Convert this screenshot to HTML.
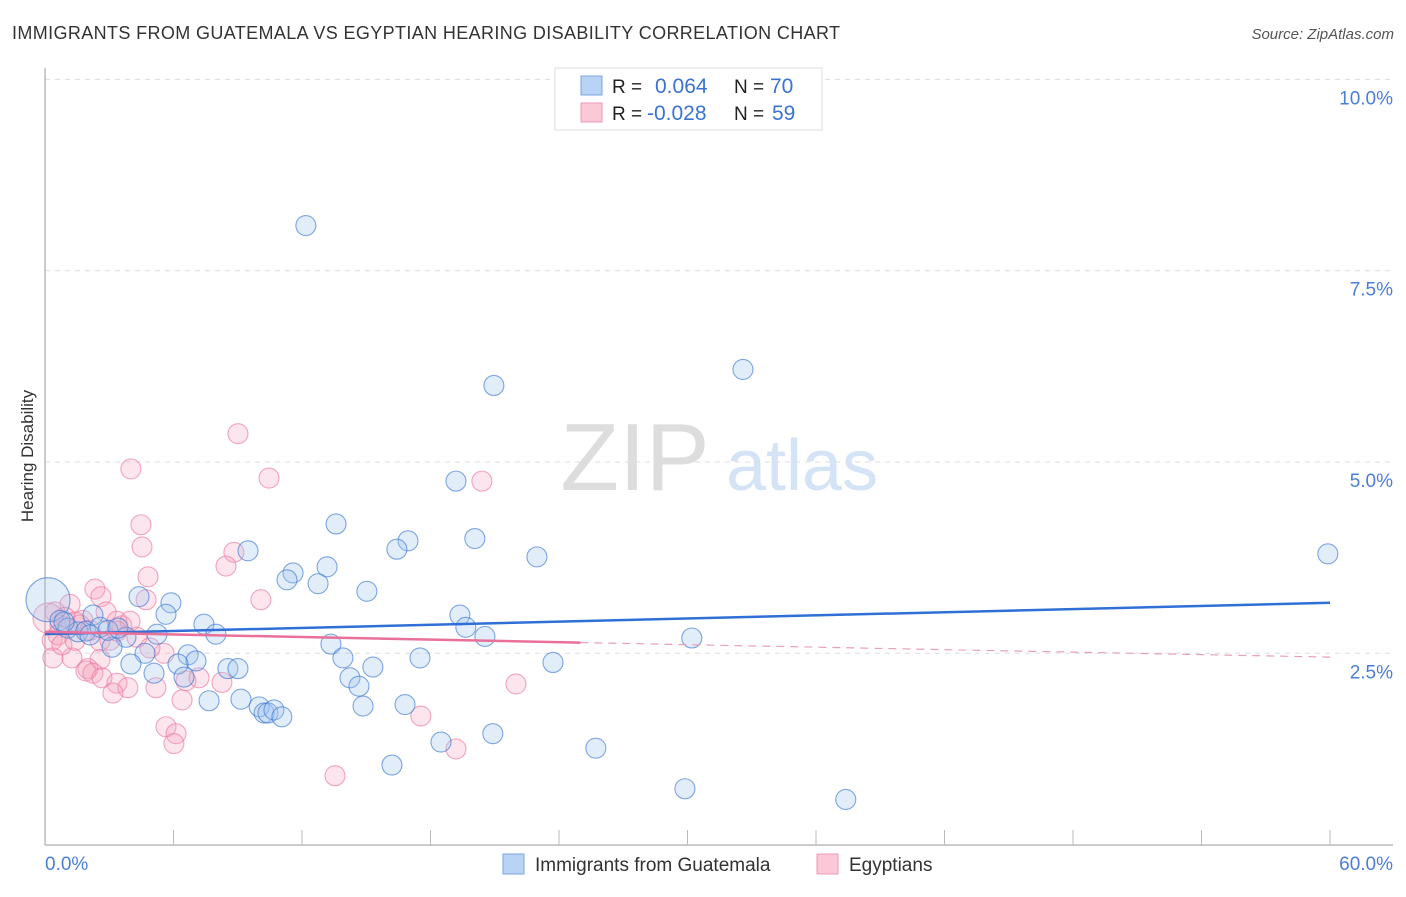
<!DOCTYPE html>
<html><head><meta charset="utf-8"><style>
body{margin:0;background:#fff;font-family:"Liberation Sans",sans-serif;}
svg text{font-family:"Liberation Sans",sans-serif;}
</style></head><body>
<svg width="1406" height="892" xmlns="http://www.w3.org/2000/svg" id="chart">
<text x="12" y="39" font-size="18" fill="#333" textLength="828">IMMIGRANTS FROM GUATEMALA VS EGYPTIAN HEARING DISABILITY CORRELATION CHART</text>
<text x="1394" y="39" font-size="15" fill="#555" font-style="italic" text-anchor="end">Source: ZipAtlas.com</text>
<text x="0" y="0" transform="translate(33,456) rotate(-90)" font-size="17" fill="#333" text-anchor="middle">Hearing Disability</text>
<g>
<text x="635" y="490" font-size="96" fill="#ddd" font-family="Liberation Serif,serif" text-anchor="middle">ZIP</text>
<text x="802" y="490" font-size="72" fill="#d4e3f6" text-anchor="middle">atlas</text>
</g>
<g id="grid"></g>
<g id="axes"></g>
<g id="pts"></g>
<g id="lines"></g>
<g>
<rect x="555" y="68" width="267" height="62" fill="#fff" stroke="#ddd"/>
<rect x="581" y="76" width="21" height="19" fill="#b9d3f5" stroke="#7aa5e0"/>
<rect x="581" y="103" width="21" height="19" fill="#fac8d7" stroke="#ee9ab5"/>
<text x="612" y="93" font-size="19" fill="#222">R = </text><text x="655" y="93" font-size="21" fill="#3a73d0">0.064</text>
<text x="734" y="93" font-size="19" fill="#222">N = </text><text x="770" y="93" font-size="21" fill="#3a73d0">70</text>
<text x="612" y="120" font-size="19" fill="#222">R = </text><text x="647" y="120" font-size="21" fill="#3a73d0">-0.028</text>
<text x="734" y="120" font-size="19" fill="#222">N = </text><text x="772" y="120" font-size="21" fill="#3a73d0">59</text>
</g>
<g>
<rect x="503" y="854" width="21" height="20" fill="#b9d3f5" stroke="#7aa5e0"/>
<text x="535" y="871" font-size="19" fill="#333">Immigrants from Guatemala</text>
<rect x="817" y="854" width="21" height="20" fill="#fac8d7" stroke="#ee9ab5"/>
<text x="849" y="871" font-size="19" fill="#333">Egyptians</text>
</g>
</svg>
<script>
const yTicks=[2.5,5.0,7.5,10.0];
const xTickLabels=["0.0%","60.0%"];
const blueX=[12.18,32.59,20.96,19.19,13.59,20.07,16.95,16.43,9.48,22.97,59.9,13.17,11.58,11.30,12.75,15.03,4.39,5.88,5.65,2.24,19.37,7.42,19.65,20.54,30.2,5.23,3.78,7.98,13.35,3.13,4.67,6.68,13.91,17.51,23.72,4.01,7.05,6.21,15.31,5.09,8.54,9.01,6.49,14.24,14.66,7.66,9.15,10.0,14.85,16.81,10.23,10.41,10.69,11.06,18.49,20.91,25.72,16.2,29.88,37.39,0.14,0.7,1.07,1.54,1.91,2.57,2.94,3.41,0.89,2.1];
const blueY=[8.09,6.21,6.00,4.75,4.19,4.00,3.97,3.86,3.84,3.76,3.80,3.63,3.55,3.46,3.41,3.31,3.24,3.16,3.01,3.00,3.00,2.88,2.84,2.72,2.70,2.75,2.71,2.75,2.62,2.58,2.50,2.48,2.44,2.44,2.38,2.36,2.40,2.36,2.32,2.24,2.30,2.30,2.19,2.18,2.07,1.88,1.90,1.80,1.81,1.83,1.72,1.72,1.76,1.67,1.34,1.45,1.26,1.04,0.73,0.59,3.20,2.93,2.83,2.78,2.79,2.84,2.80,2.83,2.91,2.74];
const pinkX=[9.01,4.01,10.46,20.4,4.48,4.53,8.82,8.45,4.81,2.33,2.61,4.72,10.08,1.17,2.85,3.36,3.59,1.77,0.7,4.29,2.57,0.33,5.56,0.37,1.26,2.57,2.0,1.91,2.24,6.58,7.19,2.66,3.36,8.26,21.99,3.87,5.18,3.17,6.4,17.55,5.65,6.12,6.02,19.19,13.54,0.47,0.93,1.4,0.14,0.61,1.63,3.03,0.79,3.97,3.36,1.4,2.1,4.9];
const pinkY=[5.37,4.91,4.79,4.75,4.18,3.89,3.82,3.64,3.50,3.34,3.24,3.20,3.20,3.14,3.04,2.92,2.86,2.93,2.87,2.71,2.66,2.67,2.50,2.44,2.44,2.42,2.30,2.27,2.24,2.14,2.18,2.18,2.11,2.12,2.10,2.05,2.05,1.98,1.89,1.68,1.54,1.45,1.32,1.25,0.90,3.04,2.97,2.91,2.96,2.74,2.87,2.67,2.61,2.92,2.79,2.67,2.80,2.57];
const blueTrend=[[0,2.75],[60,3.16]];
const pinkTrend=[[0,2.78],[25,2.64],[60,2.45]];
const NS="http://www.w3.org/2000/svg";
const xs=v=>45+v*1285/60, ys=v=>844.6-v*76.52;
function mk(t,a,p){const e=document.createElementNS(NS,t);for(const k in a)e.setAttribute(k,a[k]);document.getElementById(p).appendChild(e);return e;}
yTicks.forEach(t=>{
 const l=mk('line',{x1:45,x2:1393,y1:ys(t),y2:ys(t),stroke:'#ddd','stroke-dasharray':'5,5'},'grid');
 
 
 const tx=mk('text',{x:1393,y:ys(t)+25,'font-size':19,fill:'#4a7fd6','text-anchor':'end'},'grid');
 tx.textContent=t.toFixed(1)+'%';
 
 
});
const ax=mk('line',{x1:45,x2:45,y1:68,y2:845,stroke:'#bbb','stroke-width':1.5},'axes');


const bx=mk('line',{x1:45,x2:1393,y1:845,y2:845,stroke:'#bbb','stroke-width':1.5},'axes');


for(let i=0;i<=10;i++){const t=mk('line',{x1:xs(i*6),x2:xs(i*6),y1:830,y2:845,stroke:'#bbb'},'axes');
 
 }
[[0,69,'start'],[60,1393,'end']].forEach((d,i)=>{const t=mk('text',{x:i?1393:45,y:870,'font-size':19,fill:'#4a7fd6','text-anchor':d[2]},'axes');t.textContent=xTickLabels[i];
 
 });
function dots(X,Y,fill,stroke,name){X.forEach((x,i)=>{
 let r=10; if(name==='blue-point'&&x<0.5&&Y[i]>3.1) r=22; if(name==='pink-point'&&x<0.2) r=15;
 const c=mk('circle',{cx:xs(x),cy:ys(Y[i]),r:r,fill:fill,stroke:stroke,'stroke-width':1.1},'pts');
 
 
});}
dots(pinkX,pinkY,'rgba(246,160,188,0.28)','rgba(236,120,160,0.65)','pink-point');
dots(blueX,blueY,'rgba(160,196,240,0.3)','rgba(60,120,210,0.65)','blue-point');
const bl=mk('line',{x1:xs(blueTrend[0][0]),y1:ys(blueTrend[0][1]),x2:xs(blueTrend[1][0]),y2:ys(blueTrend[1][1]),stroke:'#2f6fd6','stroke-width':2.5},'lines');


const pl=mk('line',{x1:xs(pinkTrend[0][0]),y1:ys(pinkTrend[0][1]),x2:xs(pinkTrend[1][0]),y2:ys(pinkTrend[1][1]),stroke:'#e8709a','stroke-width':2.5},'lines');


const pd=mk('line',{x1:xs(pinkTrend[1][0]),y1:ys(pinkTrend[1][1]),x2:xs(pinkTrend[2][0]),y2:ys(pinkTrend[2][1]),stroke:'#e8a0b8','stroke-width':1.2,'stroke-dasharray':'8,6'},'lines');


</script>
</body></html>
